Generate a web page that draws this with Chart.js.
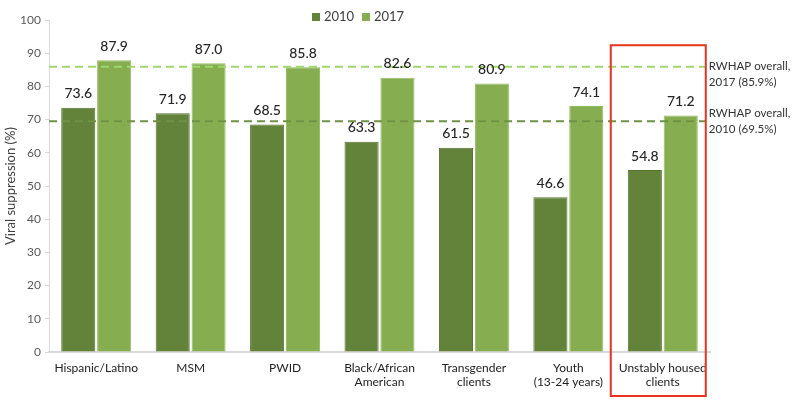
<!DOCTYPE html>
<html><head><meta charset="utf-8">
<script src="https://cdn.jsdelivr.net/npm/chart.js@4.4.0/dist/chart.umd.min.js"></script>
<style>html,body{margin:0;padding:0;background:#fff;}#wrap{width:800px;height:403px;}</style>
</head><body><div id="wrap"><canvas id="c"></canvas></div>
<script>
const categories = [["Hispanic/Latino"],["MSM"],["PWID"],["Black/African","American"],["Transgender","clients"],["Youth","(13-24 years)"],["Unstably housed","clients"]];
const values2010 = [73.6, 71.9, 68.5, 63.3, 61.5, 46.6, 54.8];
const values2017 = [87.9, 87.0, 85.8, 82.6, 80.9, 74.1, 71.2];
const seriesNames = ["2010", "2017"];
const overall2017 = 85.9;
const overall2010 = 69.5;
const refLabels = [["RWHAP overall,","2017 (85.9%)"],["RWHAP overall,","2010 (69.5%)"]];
const yTicks = [0,10,20,30,40,50,60,70,80,90,100];

const FONT = "Lato, 'Liberation Sans', sans-serif";
const C2010 = "#63823a", C2017 = "#86ae51";

const extras = {
  id: 'extras',
  afterDatasetsDraw(chart) {
    const ctx = chart.ctx, xs = chart.scales.x, ys = chart.scales.y, ca = chart.chartArea;
    const lastX = xs.getPixelForValue(categories.length - 1);
    const bl = lastX - 52, br = lastX + 43;
    ctx.save();
    ctx.setLineDash([8,5]);
    ctx.lineWidth = 2;
    ctx.strokeStyle = "#9ed86e";
    let y17 = ys.getPixelForValue(overall2017);
    ctx.beginPath(); ctx.moveTo(ca.left, y17); ctx.lineTo(br, y17); ctx.stroke();
    ctx.strokeStyle = "#6f9247";
    let y10 = ys.getPixelForValue(overall2010);
    ctx.beginPath(); ctx.moveTo(ca.left, y10); ctx.lineTo(br, y10); ctx.stroke();
    ctx.restore();
    ctx.save();
    ctx.font = "500 14px " + FONT;
    ctx.fillStyle = "#262626";
    ctx.textAlign = "center";
    ctx.textBaseline = "bottom";
    chart.data.datasets.forEach((ds, i) => {
      chart.getDatasetMeta(i).data.forEach((bar, j) => {
        ctx.fillText(ds.data[j].toFixed(1), bar.x, bar.y - 7);
      });
    });
    ctx.restore();
    ctx.save();
    ctx.strokeStyle = "#e8341c";
    ctx.lineWidth = 2;
    ctx.strokeRect(bl, ys.getPixelForValue(92.4), br - bl, 396 - ys.getPixelForValue(92.4));
    ctx.restore();
    ctx.save();
    ctx.font = "11.5px " + FONT;
    ctx.fillStyle = "#333";
    ctx.textAlign = "left";
    ctx.textBaseline = "middle";
    ctx.fillText(refLabels[0][0], br + 3, y17 - 1);
    ctx.fillText(refLabels[0][1], br + 3, y17 + 15);
    ctx.fillText(refLabels[1][0], br + 3, y10 - 8);
    ctx.fillText(refLabels[1][1], br + 3, y10 + 8);
    ctx.restore();
    ctx.save();
    ctx.font = "13px " + FONT;
    ctx.textBaseline = "middle";
    ctx.textAlign = "left";
    const lx = 312, ly = 17;
    ctx.fillStyle = C2010; ctx.fillRect(lx, ly - 4, 8, 8);
    ctx.fillStyle = "#404040"; ctx.fillText(seriesNames[0], lx + 12, ly);
    ctx.fillStyle = C2017; ctx.fillRect(lx + 50, ly - 4, 8, 8);
    ctx.fillStyle = "#404040"; ctx.fillText(seriesNames[1], lx + 62, ly);
    ctx.restore();
  }
};

new Chart(document.getElementById('c'), {
  type: 'bar',
  data: {
    labels: categories,
    datasets: [
      { label: seriesNames[0], data: values2010, backgroundColor: C2010, borderColor: "#55732f", borderWidth: 1, categoryPercentage: 0.76, barPercentage: 0.95 },
      { label: seriesNames[1], data: values2017, backgroundColor: C2017, borderColor: "#93bd5c", borderWidth: 1, categoryPercentage: 0.76, barPercentage: 0.95 }
    ]
  },
  options: {
    responsive: true,
    maintainAspectRatio: false,
    animation: false,
    layout: { padding: { top: 20, right: 90, left: 3, bottom: 0 } },
    plugins: { legend: { display: false }, tooltip: { enabled: false } },
    scales: {
      x: {
        grid: { display: false, drawTicks: false },
        border: { color: "#d9d9d9", width: 2 },
        ticks: { color: "#222", font: { family: FONT, size: 12 }, padding: 9, maxRotation: 0, autoSkip: false },
        afterFit(s) { s.height = 51; }
      },
      y: {
        min: 0, max: 100,
        afterBuildTicks(s) { s.ticks = yTicks.map(v => ({ value: v })); },
        grid: { display: true, drawOnChartArea: false, drawTicks: true, tickLength: 4, color: "#d9d9d9" },
        border: { color: "#d9d9d9", width: 1 },
        ticks: { color: "#595959", font: { family: FONT, size: 12 }, padding: 4 },
        title: { display: true, text: "Viral suppression (%)", color: "#404040", font: { family: FONT, size: 13 }, padding: 0 },
        afterFit(s) { s.width = 46; }
      }
    }
  },
  plugins: [extras]
});
</script>
</body></html>
